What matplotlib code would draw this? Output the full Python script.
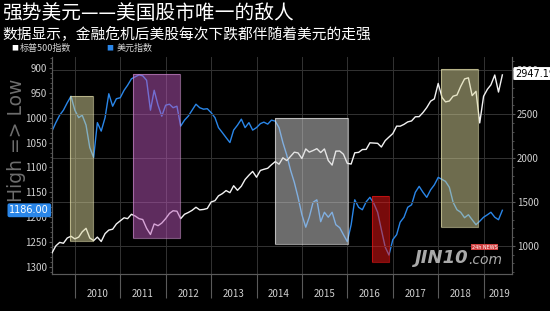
import matplotlib
matplotlib.use("Agg")
import matplotlib.pyplot as plt
import matplotlib.dates as mdates
from matplotlib.patches import Rectangle
from matplotlib.ticker import MultipleLocator, NullFormatter, FixedLocator, FixedFormatter
import pandas as pd

plt.rcParams['font.family'] = ['Noto Sans CJK SC', 'DejaVu Sans']

# 月度数据, 2009-07 起
dates = pd.date_range('2009-07-01', periods=120, freq='MS')

# 美元指数 (左轴, 反转)
dollar = [1027, 1010, 995, 985, 970, 957, 985, 1000, 995, 1015, 1060, 1080,
          1010, 1027, 1000, 952, 977, 962, 960, 945, 935, 922, 918, 914,
          916, 925, 985, 945, 975, 997, 975, 973, 980, 977, 1017, 1005,
          997, 985, 973, 980, 983, 982, 990, 1000, 1020, 1030, 1040, 1050,
          1025, 1015, 1003, 1020, 1010, 1025, 1020, 1012, 1009, 1013, 1005, 1007,
          1020, 1050, 1075, 1105, 1130, 1160, 1195, 1220, 1200, 1170, 1165, 1209,
          1190, 1200, 1190, 1215, 1221, 1235, 1249, 1215, 1165, 1180, 1185, 1169,
          1160, 1172, 1190, 1225, 1260, 1276, 1245, 1235, 1210, 1200, 1180, 1175,
          1150, 1138, 1150, 1160, 1145, 1135, 1120, 1124, 1128, 1140, 1170, 1185,
          1190, 1201, 1195, 1205, 1215, 1208, 1200, 1195, 1190, 1200, 1205, 1186]

# 标普500指数 (右轴)
spx = [920, 1000, 1040, 1030, 1090, 1110, 1080, 1100, 1160, 1200, 1090, 1060,
       1100, 1050, 1140, 1180, 1190, 1250, 1285, 1320, 1310, 1360, 1340, 1310,
       1300, 1200, 1130, 1250, 1230, 1260, 1310, 1370, 1400, 1395, 1310, 1360,
       1380, 1405, 1440, 1410, 1415, 1426, 1500, 1515, 1570, 1595, 1630, 1606,
       1685, 1633, 1680, 1756, 1805, 1848, 1782, 1859, 1872, 1884, 1924, 1960,
       1930, 2003, 1972, 2018, 2067, 2059, 1995, 2104, 2068, 2086, 2107, 2063,
       2104, 1972, 1920, 2079, 2080, 2044, 1940, 1932, 2060, 2065, 2097, 2099,
       2174, 2171, 2168, 2126, 2199, 2239, 2279, 2364, 2363, 2384, 2412, 2423,
       2470, 2472, 2519, 2575, 2648, 2674, 2850, 2690, 2640, 2650, 2705, 2718,
       2816, 2901, 2914, 2711, 2760, 2400, 2704, 2784, 2834, 2946, 2752, 2947]

years = [str(y) for y in range(2010, 2020)]
year_label_dates = [f'{y}-07-01' for y in range(2010, 2019)] + ['2019-05-12']

# 标注框: 起止日期, 左轴上下限, 颜色
box_start = ['2009-11-21', '2011-04-10', '2014-05-28', '2016-07-19', '2018-01-25']
box_end = ['2010-05-25', '2012-04-25', '2016-01-07', '2016-12-04', '2018-11-19']
box_top = [957, 912, 1001, 1157, 902]
box_bottom = [1247, 1241, 1253, 1290, 1219]
box_fill = ['#dcd89c', '#bc58bc', '#d8d8d8', '#f01616', '#dcd89c']
box_edge = ['#e8e4b0', '#d090d0', '#f0f0f0', '#f01616', '#e8e4b0']

fig = plt.figure(figsize=(5.5, 3.11), dpi=100, facecolor='black')

# 左侧说明文字 (在刻度标签之下)
fig.text(0.03, 0.55, 'High => Low', color='#6e6e6e', fontsize=13.5, rotation=90,
         va='center', ha='center', family=['DejaVu Sans'], zorder=0)

ax1 = fig.add_axes([0.0945, 0.119, 0.8365, 0.698])
ax1.set_facecolor('none')
ax2 = ax1.twinx()

ax1.plot(dates, dollar, color='#2a86e8', linewidth=1.0, zorder=3)
ax2.plot(dates, spx, color='#f2f2f2', linewidth=1.0, zorder=3)

for s, e, t, b, fc, ec in zip(box_start, box_end, box_top, box_bottom, box_fill, box_edge):
    x0 = mdates.date2num(pd.Timestamp(s))
    x1 = mdates.date2num(pd.Timestamp(e))
    ax2.add_patch(Rectangle((x0, t), x1 - x0, b - t, transform=ax1.transData,
                            facecolor=fc, edgecolor='none', alpha=0.5, zorder=5))
    ax2.add_patch(Rectangle((x0, t), x1 - x0, b - t, transform=ax1.transData,
                            facecolor='none', edgecolor=ec, alpha=0.6, lw=0.8, zorder=5))

ax1.set_xlim(pd.Timestamp('2009-07-01'), pd.Timestamp('2019-08-18'))
ax1.set_ylim(1314, 878)
ax2.set_ylim(680, 3152)

# 坐标轴样式
for ax in (ax1, ax2):
    ax.spines['top'].set_visible(False)
    for side in ('left', 'right', 'bottom'):
        ax.spines[side].set_color('#5a5a5a')

ax1.yaxis.set_major_locator(MultipleLocator(50))
ax1.yaxis.set_minor_locator(MultipleLocator(10))
ax1.tick_params(axis='y', which='major', colors='#5a5a5a', labelcolor='#d0d0d0',
                labelsize=7, length=2.5, pad=1)
ax1.tick_params(axis='y', which='minor', colors='#5a5a5a', length=1.2)

ax2.set_yticks([1000, 1500, 2000, 2500, 3000])
ax2.yaxis.set_minor_locator(MultipleLocator(100))
ax2.tick_params(axis='y', which='major', colors='#5a5a5a', labelcolor='#d0d0d0',
                labelsize=7, length=2.5, pad=1)
ax2.tick_params(axis='y', which='minor', colors='#5a5a5a', length=1.2)

ax1.xaxis.set_major_locator(mdates.YearLocator(month=1, day=1))
ax1.xaxis.set_major_formatter(NullFormatter())
ax1.xaxis.set_minor_locator(FixedLocator(mdates.date2num(pd.to_datetime(year_label_dates))))
ax1.xaxis.set_minor_formatter(FixedFormatter(years))
ax1.tick_params(axis='x', which='major', colors='#5a5a5a', length=17, width=0.8)
ax1.tick_params(axis='x', which='minor', length=0, labelcolor='#d0d0d0',
                labelsize=7, pad=11)

# 网格
ax1.grid(axis='x', which='major', color='#333333', linewidth=0.7)
ax2.grid(axis='y', which='major', color='#333333', linewidth=0.7)
ax1.set_axisbelow(True)
ax2.set_axisbelow(True)

# 最新值标签
ax1.annotate(f'{dollar[-1]:.2f}', xy=(0, dollar[-1]), xycoords=('axes fraction', 'data'),
             xytext=(-2, 0), textcoords='offset points', ha='right', va='center',
             fontsize=7, color='white', family=['DejaVu Sans'],
             bbox=dict(boxstyle='round,pad=0.2', fc='#2a86e8', ec='none'), zorder=10,
             annotation_clip=False)
ax2.annotate('2947.19', xy=(1, spx[-1]), xycoords=('axes fraction', 'data'),
             xytext=(2, 1), textcoords='offset points', ha='left', va='center',
             fontsize=7, color='black', family=['DejaVu Sans'],
             bbox=dict(boxstyle='round,pad=0.15', fc='white', ec='none'), zorder=10,
             annotation_clip=False)

# 标题与图例
fig.text(0.004, 0.955, '强势美元——美国股市唯一的敌人', color='white', fontsize=14.2,
         va='center', ha='left')
fig.text(0.004, 0.893, '数据显示，金融危机后美股每次下跌都伴随着美元的走强', color='white',
         fontsize=10.6, va='center', ha='left')
fig.text(0.027, 0.845, '■', color='white', fontsize=5, va='center', ha='center')
fig.text(0.036, 0.845, '标普500指数', color='#d8d8d8', fontsize=6.5, va='center', ha='left')
fig.text(0.2, 0.845, '■', color='#2a86e8', fontsize=5, va='center', ha='center')
fig.text(0.212, 0.845, '美元指数', color='#d8d8d8', fontsize=6.5, va='center', ha='left')

# 水印
fig.text(0.755, 0.17, 'JIN10', color='#c8c8c8', fontsize=13, fontweight='bold',
         fontstyle='italic', va='center', ha='left', family=['DejaVu Sans'], alpha=0.85)
fig.text(0.852, 0.165, '.com', color='#c8c8c8', fontsize=10, fontstyle='italic',
         va='center', ha='left', family=['DejaVu Sans'], alpha=0.85)
fig.text(0.858, 0.205, '24h NEWS', color='white', fontsize=3.5, va='center', ha='left',
         family=['DejaVu Sans'],
         bbox=dict(boxstyle='square,pad=0.1', fc='#d04040', ec='none'))

fig.savefig('out.png', dpi=100, facecolor='black')
